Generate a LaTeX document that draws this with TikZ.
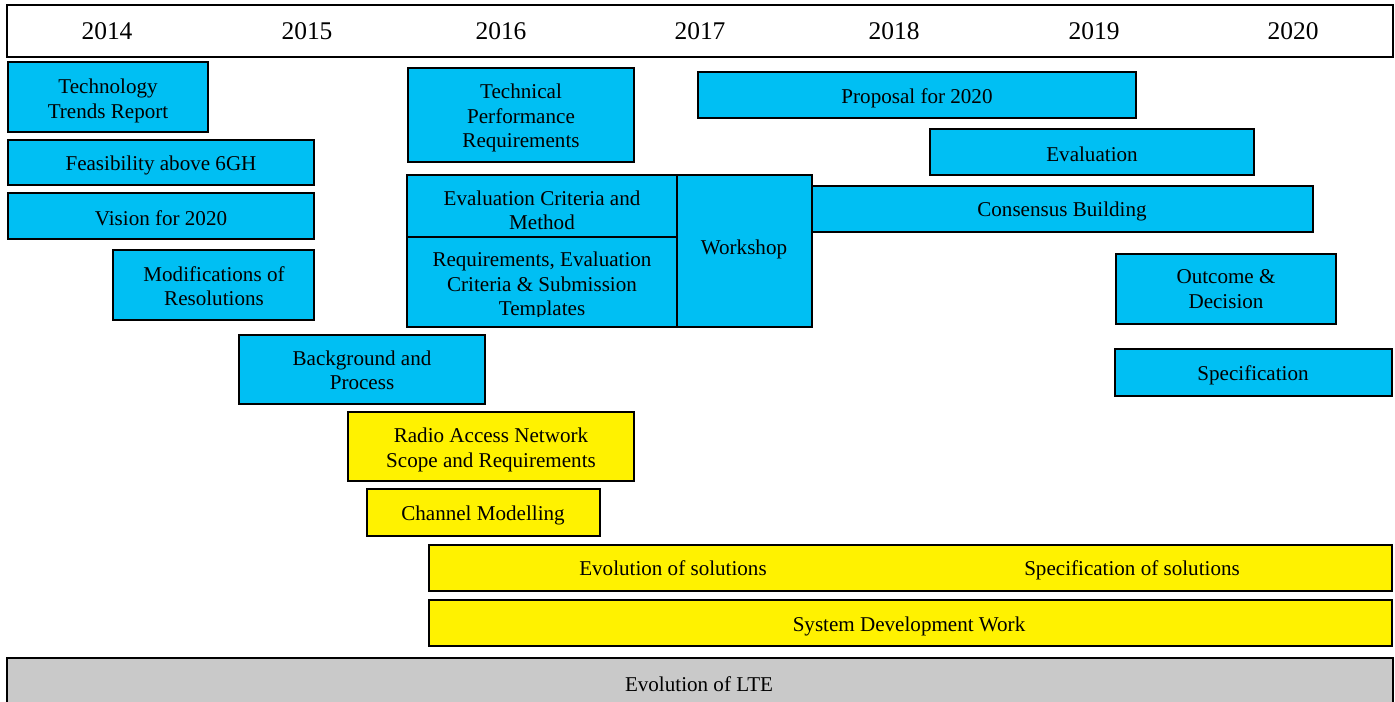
\documentclass[tikz,border=0pt]{standalone}
\usepackage{fontspec}
\setmainfont{Liberation Serif}
\usepackage{tikz}
\definecolor{skyblue}{RGB}{0,191,243}
\definecolor{ltegrey}{RGB}{201,201,201}

\begin{document}
\begin{tikzpicture}[x=0.02cm, y=-0.02cm, font=\fontsize{12}{13.8}\selectfont,
    bluebox/.style={draw, line width=0.9pt, fill=skyblue},
    yellowbox/.style={draw, line width=0.9pt, fill=yellow},
    greybox/.style={draw, line width=0.9pt, fill=ltegrey},
    txt/.style={align=center, inner sep=0pt}]
  \clip (0,0) rectangle (1395,702);
  % years
  \draw [line width=0.9pt] (7,5) rectangle (1393,57);
  \foreach \yr/\xx in {2014/107, 2015/307, 2016/501, 2017/700, 2018/894, 2019/1094, 2020/1293}
    \node [txt, font=\fontsize{14.5}{16}\selectfont] (year\yr) at (\xx,31) {\yr};
  % blue activities
  \draw [bluebox] (8,62) rectangle (208,132);
  \node [txt] (trends) at (108,101) {Technology\\Trends Report};
  \draw [bluebox] (8,140) rectangle (314,185);
  \node [txt] (feasib) at (161,165) {Feasibility above 6GH};
  \draw [bluebox] (8,193) rectangle (314,239);
  \node [txt] (vision) at (161,218) {Vision for 2020};
  \draw [bluebox] (113,250) rectangle (314,320);
  \node [txt] (resol) at (214,286) {Modifications of\\Resolutions};
  \draw [bluebox] (239,335) rectangle (485,404);
  \node [txt] (backgr) at (362,370) {Background and\\Process};
  \draw [bluebox] (408,68) rectangle (634,162);
  \node [txt] (techperf) at (521,118) {Technical\\Performance\\Requirements};
  \draw [bluebox] (407,175) rectangle (677,237);
  \node [txt] (evalcrit) at (542,210) {Evaluation Criteria and\\Method};
  \draw [bluebox] (407,237) rectangle (677,327);
  \begin{scope}
    \clip (407,237) rectangle (677,316);
    \node [txt] (submiss) at (542,286) {Requirements, Evaluation\\Criteria \& Submission\\Templates};
  \end{scope}
  \draw [bluebox] (677,175) rectangle (812,327);
  \node [txt] (workshop) at (744,249) {Workshop};
  \draw [bluebox] (698,72) rectangle (1136,118);
  \node [txt] (proposal) at (917,98) {Proposal for 2020};
  \draw [bluebox] (930,129) rectangle (1254,175);
  \node [txt] (evaluation) at (1092,154) {Evaluation};
  \draw [bluebox] (812,186) rectangle (1313,232);
  \node [txt] (consensus) at (1062,211) {Consensus Building};
  \draw [bluebox] (1116,254) rectangle (1336,324);
  \node [txt] (outcome) at (1226,289) {Outcome \&\\Decision};
  \draw [bluebox] (1115,349) rectangle (1392,396);
  \node [txt] (spec) at (1253,375) {Specification};
  % yellow activities
  \draw [yellowbox] (348,412) rectangle (634,481);
  \node [txt] (ran) at (491,450) {Radio Access Network\\Scope and Requirements};
  \draw [yellowbox] (367,489) rectangle (600,536);
  \node [txt] (channel) at (483,515) {Channel Modelling};
  \draw [yellowbox] (429,545) rectangle (1392,591);
  \node [txt, anchor=base] (evolsol) at (673,575) {Evolution of solutions};
  \node [txt, anchor=base] (specsol) at (1132,575) {Specification of solutions};
  \draw [yellowbox] (429,600) rectangle (1392,646);
  \node [txt] (sysdev) at (909,626) {System Development Work};
  % LTE
  \draw [greybox] (7,658) rectangle (1393,712);
  \node [txt] (lte) at (699,684) {Evolution of LTE};
\end{tikzpicture}
\end{document}
